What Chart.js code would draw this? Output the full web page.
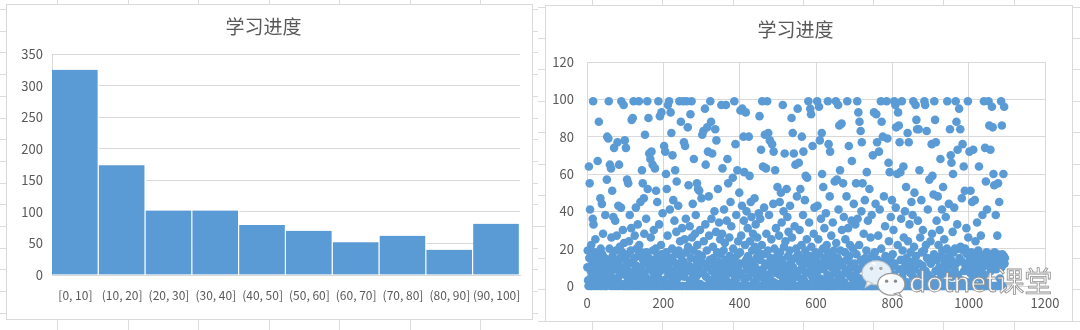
<!DOCTYPE html>
<html>
<head>
<meta charset="utf-8">
<title>学习进度</title>
<script src="https://cdn.jsdelivr.net/npm/chart.js@4.4.1/dist/chart.umd.min.js"></script>
<style>
    html, body { margin: 0; padding: 0; background: #fff; }
    body { width: 1080px; height: 330px; position: relative; overflow: hidden; }
    #sheet { position: absolute; left: 0; top: 0; }
    .box { position: absolute; background: #fff; border: 1px solid #d9d9d9; }
    .box canvas { display: block; }
    #histBox { left: 6px; top: 4px; width: 525px; height: 314px; }
    #scatterBox { left: 545px; top: 5px; width: 526px; height: 315px; }
    #wxlogo { position: absolute; left: 860px; top: 258px; }
    #mark {
        position: absolute; left: 909px; top: 262px;
        font: 28px 'Noto Sans CJK SC', sans-serif; line-height: 36px;
        color: rgba(255, 255, 255, 0.9);
        -webkit-text-stroke: 0.8px #8f8f8f;
        white-space: nowrap;
    }
</style>
</head>
<body>
<canvas id="sheet" width="1080" height="330"></canvas>
<div class="box" id="histBox"><canvas id="hist" width="525" height="314"></canvas></div>
<div class="box" id="scatterBox"><canvas id="scatter" width="526" height="315"></canvas></div>

<svg id="wxlogo" width="48" height="40" viewBox="0 0 46 38">
    <ellipse cx="16" cy="14" rx="14" ry="11.5" fill="rgba(255,255,255,0.85)" stroke="#c4c4c4" stroke-width="1"/>
    <path d="M7 22 L5 28 L12 24 Z" fill="rgba(255,255,255,0.85)" stroke="#c4c4c4" stroke-width="1"/>
    <circle cx="11" cy="10" r="1.7" fill="#a8a8a8"/>
    <circle cx="20" cy="10" r="1.7" fill="#a8a8a8"/>
    <ellipse cx="30" cy="25" rx="13" ry="10.5" fill="rgba(255,255,255,0.95)" stroke="#9a9a9a" stroke-width="1.2"/>
    <path d="M37 33 L40 37 L33 34 Z" fill="rgba(255,255,255,0.95)" stroke="#9a9a9a" stroke-width="1"/>
    <circle cx="25.5" cy="22" r="1.6" fill="#8a8a8a"/>
    <circle cx="34" cy="22" r="1.6" fill="#8a8a8a"/>
</svg>
<div id="mark">dotnet课堂</div>

<script>
// Histogram bins and their counts
const binLabels = ['[0, 10]', '(10, 20]', '(20, 30]', '(30, 40]', '(40, 50]',
                   '(50, 60]', '(60, 70]', '(70, 80]', '(80, 90]', '(90, 100]'];
const binCounts = [325, 174, 102, 102, 79, 70, 52, 62, 40, 81];

// Axis ticks
const histTicks = [0, 50, 100, 150, 200, 250, 300, 350];
const scatterXTicks = [0, 200, 400, 600, 800, 1000, 1200];
const scatterYTicks = [0, 20, 40, 60, 80, 100, 120];

// Progress of each learner, in record order (x = record number)
const progress = [
    10, 19, 3, 0, 64, 15, 55, 41, 0, 8, 22, 5, 0, 12, 36, 99, 33, 7, 0, 18, 2, 25, 14, 6, 0, 11, 9, 67, 16, 0, 88, 4, 13, 1, 47, 20, 0, 7, 44, 17, 3, 28, 0, 12, 5, 15, 9, 38, 0, 14,
    0, 57, 80, 6, 14, 79, 99, 2, 20, 65, 11, 0, 63, 26, 8, 51, 16, 0, 37, 4, 74, 13, 0, 35, 9, 19, 3, 27, 0, 77, 12, 43, 5, 65, 0, 21, 15, 7, 42, 99, 1, 18, 0, 30, 10, 97, 23, 0, 78, 6,
    14, 74, 0, 9, 57, 17, 3, 55, 0, 24, 12, 38, 6, 0, 19, 31, 89, 2, 13, 90, 0, 99, 8, 15, 27, 4, 0, 42, 11, 20, 7, 0, 33, 16, 5, 99, 22, 0, 10, 45, 3, 18, 0, 62, 8, 55, 14, 0, 47, 28,
    6, 81, 12, 0, 36, 18, 4, 99, 52, 0, 90, 15, 71, 9, 0, 68, 26, 3, 72, 11, 0, 65, 19, 7, 30, 0, 14, 63, 2, 20, 51, 0, 10, 45, 16, 5, 99, 0, 33, 13, 91, 8, 0, 22, 93, 17, 1, 39, 0, 12,
    3, 75, 14, 0, 72, 9, 60, 18, 52, 0, 27, 97, 6, 11, 99, 0, 41, 15, 93, 2, 82, 0, 20, 70, 8, 46, 13, 0, 35, 5, 62, 17, 0, 29, 56, 10, 4, 0, 43, 19, 12, 99, 0, 24, 7, 88, 16, 0, 31, 9,
    0, 99, 13, 77, 5, 25, 75, 0, 36, 18, 99, 8, 0, 85, 21, 54, 11, 0, 32, 3, 92, 15, 0, 99, 26, 7, 44, 0, 19, 68, 10, 0, 28, 4, 38, 14, 0, 55, 22, 6, 52, 17, 0, 51, 9, 30, 1, 12, 0, 47,
    16, 81, 0, 7, 83, 24, 12, 0, 95, 33, 65, 5, 0, 19, 85, 10, 72, 0, 48, 27, 3, 14, 99, 0, 88, 36, 8, 71, 0, 21, 15, 4, 0, 40, 11, 84, 0, 29, 78, 6, 18, 0, 52, 13, 2, 34, 0, 9, 25, 17,
    0, 97, 12, 28, 63, 5, 0, 19, 41, 8, 23, 0, 14, 97, 3, 35, 0, 68, 11, 55, 0, 7, 26, 16, 0, 45, 9, 32, 0, 13, 2, 58, 20, 0, 6, 99, 15, 0, 76, 10, 38, 4, 0, 62, 17, 24, 0, 8, 50, 12,
    18, 94, 0, 27, 6, 43, 95, 12, 0, 80, 35, 61, 3, 22, 0, 93, 14, 40, 9, 0, 31, 16, 5, 80, 0, 59, 24, 11, 45, 0, 37, 7, 19, 0, 28, 13, 2, 0, 47, 21, 10, 33, 0, 15, 4, 26, 0, 8, 18, 39,
    0, 91, 14, 36, 5, 73, 0, 22, 99, 9, 64, 0, 17, 42, 3, 81, 12, 0, 63, 28, 6, 99, 0, 19, 82, 11, 38, 0, 78, 4, 15, 0, 25, 8, 76, 13, 0, 44, 72, 2, 20, 0, 62, 10, 31, 7, 0, 16, 53, 1,
    12, 0, 27, 6, 45, 18, 0, 50, 9, 34, 0, 14, 97, 3, 40, 21, 0, 71, 8, 24, 0, 11, 52, 5, 37, 0, 16, 29, 2, 0, 19, 43, 7, 0, 13, 90, 26, 0, 82, 10, 4, 71, 0, 32, 15, 65, 0, 20, 6, 48,
    0, 95, 17, 8, 66, 0, 30, 13, 52, 4, 0, 22, 80, 10, 0, 38, 72, 15, 3, 0, 46, 19, 59, 7, 0, 25, 58, 12, 0, 99, 1, 34, 16, 0, 95, 9, 92, 21, 0, 5, 75, 14, 0, 28, 11, 42, 0, 6, 18, 3,
    14, 0, 99, 43, 8, 25, 0, 96, 17, 78, 4, 0, 36, 12, 82, 60, 0, 20, 53, 9, 0, 31, 15, 3, 0, 39, 11, 22, 0, 6, 99, 18, 76, 0, 13, 48, 72, 5, 0, 27, 10, 0, 16, 34, 2, 0, 19, 7, 56, 12,
    0, 99, 23, 8, 57, 0, 15, 97, 41, 4, 86, 0, 62, 19, 11, 0, 87, 30, 6, 0, 55, 13, 37, 2, 0, 18, 25, 9, 0, 48, 14, 99, 0, 31, 7, 75, 16, 0, 22, 5, 0, 12, 35, 67, 0, 10, 20, 3, 44, 0,
    12, 0, 33, 6, 55, 17, 0, 99, 36, 9, 93, 0, 22, 88, 4, 0, 83, 14, 40, 77, 0, 55, 11, 0, 28, 3, 0, 46, 15, 8, 0, 19, 61, 0, 5, 35, 13, 0, 2, 52, 10, 0, 26, 7, 0, 38, 16, 0, 70, 4,
    0, 93, 9, 18, 0, 44, 3, 92, 0, 77, 14, 0, 27, 6, 72, 0, 41, 11, 0, 99, 20, 88, 0, 5, 80, 13, 0, 48, 2, 0, 32, 16, 0, 8, 99, 0, 79, 12, 0, 66, 24, 4, 61, 0, 15, 37, 0, 10, 46, 1,
    17, 0, 30, 6, 99, 12, 0, 97, 42, 85, 3, 0, 60, 22, 93, 0, 86, 9, 77, 0, 61, 14, 36, 0, 99, 5, 19, 0, 64, 26, 8, 0, 40, 11, 0, 53, 15, 2, 0, 82, 24, 0, 77, 10, 33, 0, 7, 18, 0, 45,
    0, 13, 38, 5, 99, 0, 21, 50, 9, 0, 97, 16, 89, 0, 84, 3, 35, 0, 84, 12, 62, 0, 26, 7, 0, 46, 18, 0, 11, 30, 4, 0, 19, 99, 0, 97, 8, 22, 0, 83, 15, 0, 41, 6, 0, 14, 57, 2, 0, 24,
    12, 0, 76, 28, 59, 4, 0, 49, 17, 99, 0, 89, 8, 77, 0, 35, 14, 0, 48, 3, 22, 0, 10, 30, 0, 68, 16, 6, 0, 41, 19, 0, 53, 9, 0, 25, 13, 0, 2, 37, 15, 0, 20, 99, 7, 0, 11, 44, 0, 18,
    84, 0, 70, 14, 66, 5, 0, 29, 60, 18, 0, 42, 9, 20, 0, 99, 12, 88, 0, 33, 73, 6, 20, 0, 95, 15, 0, 84, 21, 3, 0, 47, 13, 76, 0, 19, 64, 8, 0, 51, 20, 11, 0, 31, 2, 17, 0, 99, 26, 10,
    0, 72, 14, 7, 51, 0, 18, 12, 45, 3, 0, 73, 16, 9, 0, 46, 11, 24, 0, 15, 5, 34, 0, 13, 19, 0, 64, 8, 17, 0, 12, 27, 4, 0, 14, 38, 10, 0, 16, 99, 6, 0, 74, 13, 56, 0, 18, 41, 11, 2,
    15, 99, 0, 86, 12, 17, 73, 8, 0, 14, 96, 16, 85, 0, 60, 11, 54, 18, 0, 13, 38, 9, 0, 15, 27, 17, 55, 0, 12, 45, 16, 4, 0, 14, 99, 10, 86, 17, 0, 13, 60, 16, 96, 12, 15
];

const textColor = '#595959';
const gridColor = '#d9d9d9';
const barColor = '#5b9bd5';

Chart.defaults.font.family = "'Noto Sans CJK SC', 'Noto Sans', sans-serif";
Chart.defaults.font.size = 13;
Chart.defaults.color = textColor;

// Spreadsheet cell lines peeking out around the two chart boxes
function drawSheet() {
    const ctx = document.getElementById('sheet').getContext('2d');
    ctx.strokeStyle = '#dcdcdc';
    ctx.lineWidth = 1;

    function panel(x0, x1, colStart, colStep, rowStart, rowStep) {
        ctx.beginPath();
        for (let x = colStart; x < x1; x += colStep) {
            const px = Math.round(x) + 0.5;
            ctx.moveTo(px, 0);
            ctx.lineTo(px, 330);
        }
        for (let y = rowStart; y < 330; y += rowStep) {
            const py = Math.round(y) + 0.5;
            ctx.moveTo(x0, py);
            ctx.lineTo(x1, py);
        }
        ctx.stroke();
    }

    panel(0, 538, 57, 70.5, 9, 21.7);
    panel(538, 1080, 592, 70.3, 6.6, 31.4);
}

function titleOptions(top, bottom) {
    return {
        display: true,
        text: '学习进度',
        color: textColor,
        font: { size: 19, weight: 'normal' },
        padding: { top: top, bottom: bottom }
    };
}

// Keep the plot area fixed: no extra room for overhanging end labels
function fixSize(prop, size) {
    return s => {
        s[prop] = size;
        s.paddingLeft = 0;
        s.paddingRight = 0;
        s.paddingTop = 0;
        s.paddingBottom = 0;
    };
}

const plainNumber = v => String(v);

function drawHistogram() {
    new Chart(document.getElementById('hist'), {
        type: 'bar',
        data: {
            labels: binLabels,
            datasets: [{
                data: binCounts,
                backgroundColor: barColor,
                borderColor: '#ffffff',
                borderWidth: { left: 0, right: 1.5, top: 0, bottom: 0 },
                barPercentage: 1,
                categoryPercentage: 1
            }]
        },
        options: {
            responsive: false,
            animation: false,
            devicePixelRatio: 1,
            layout: { padding: { left: 0, right: 12, top: 0, bottom: 0 } },
            plugins: {
                legend: { display: false },
                tooltip: { enabled: false },
                title: titleOptions(10.6, 15.6)
            },
            scales: {
                x: {
                    grid: { display: false, drawTicks: false },
                    border: { display: true, color: gridColor },
                    ticks: { color: textColor, font: { size: 12 }, padding: 13, maxRotation: 0, autoSkip: false },
                    afterFit: fixSize('height', 44)
                },
                y: {
                    min: histTicks[0],
                    max: histTicks[histTicks.length - 1],
                    afterBuildTicks: s => { s.ticks = histTicks.map(v => ({ value: v })); },
                    grid: { color: gridColor, drawTicks: false },
                    border: { display: true, color: gridColor },
                    ticks: { color: textColor, padding: 9, callback: plainNumber },
                    afterFit: fixSize('width', 45)
                }
            }
        }
    });
}

function drawScatter() {
    const points = progress.map((v, i) => ({ x: i + 1, y: v }));

    new Chart(document.getElementById('scatter'), {
        type: 'scatter',
        data: {
            datasets: [{
                data: points,
                backgroundColor: barColor,
                borderWidth: 0,
                pointRadius: 4.3,
                clip: false
            }]
        },
        options: {
            responsive: false,
            animation: false,
            devicePixelRatio: 1,
            layout: { padding: { left: 0, right: 27, top: 0, bottom: 0 } },
            plugins: {
                legend: { display: false },
                tooltip: { enabled: false },
                title: titleOptions(12.6, 20.6)
            },
            scales: {
                x: {
                    type: 'linear',
                    min: scatterXTicks[0],
                    max: scatterXTicks[scatterXTicks.length - 1],
                    afterBuildTicks: s => { s.ticks = scatterXTicks.map(v => ({ value: v })); },
                    grid: { color: gridColor, drawTicks: false },
                    border: { display: false },
                    ticks: { color: textColor, padding: 9, callback: plainNumber },
                    afterFit: fixSize('height', 35)
                },
                y: {
                    min: scatterYTicks[0],
                    max: scatterYTicks[scatterYTicks.length - 1],
                    afterBuildTicks: s => { s.ticks = scatterYTicks.map(v => ({ value: v })); },
                    grid: { color: gridColor, drawTicks: false },
                    border: { display: false },
                    ticks: { color: textColor, padding: 13, callback: plainNumber },
                    afterFit: fixSize('width', 41)
                }
            }
        }
    });
}

drawSheet();
drawHistogram();
drawScatter();
</script>
</body>
</html>
